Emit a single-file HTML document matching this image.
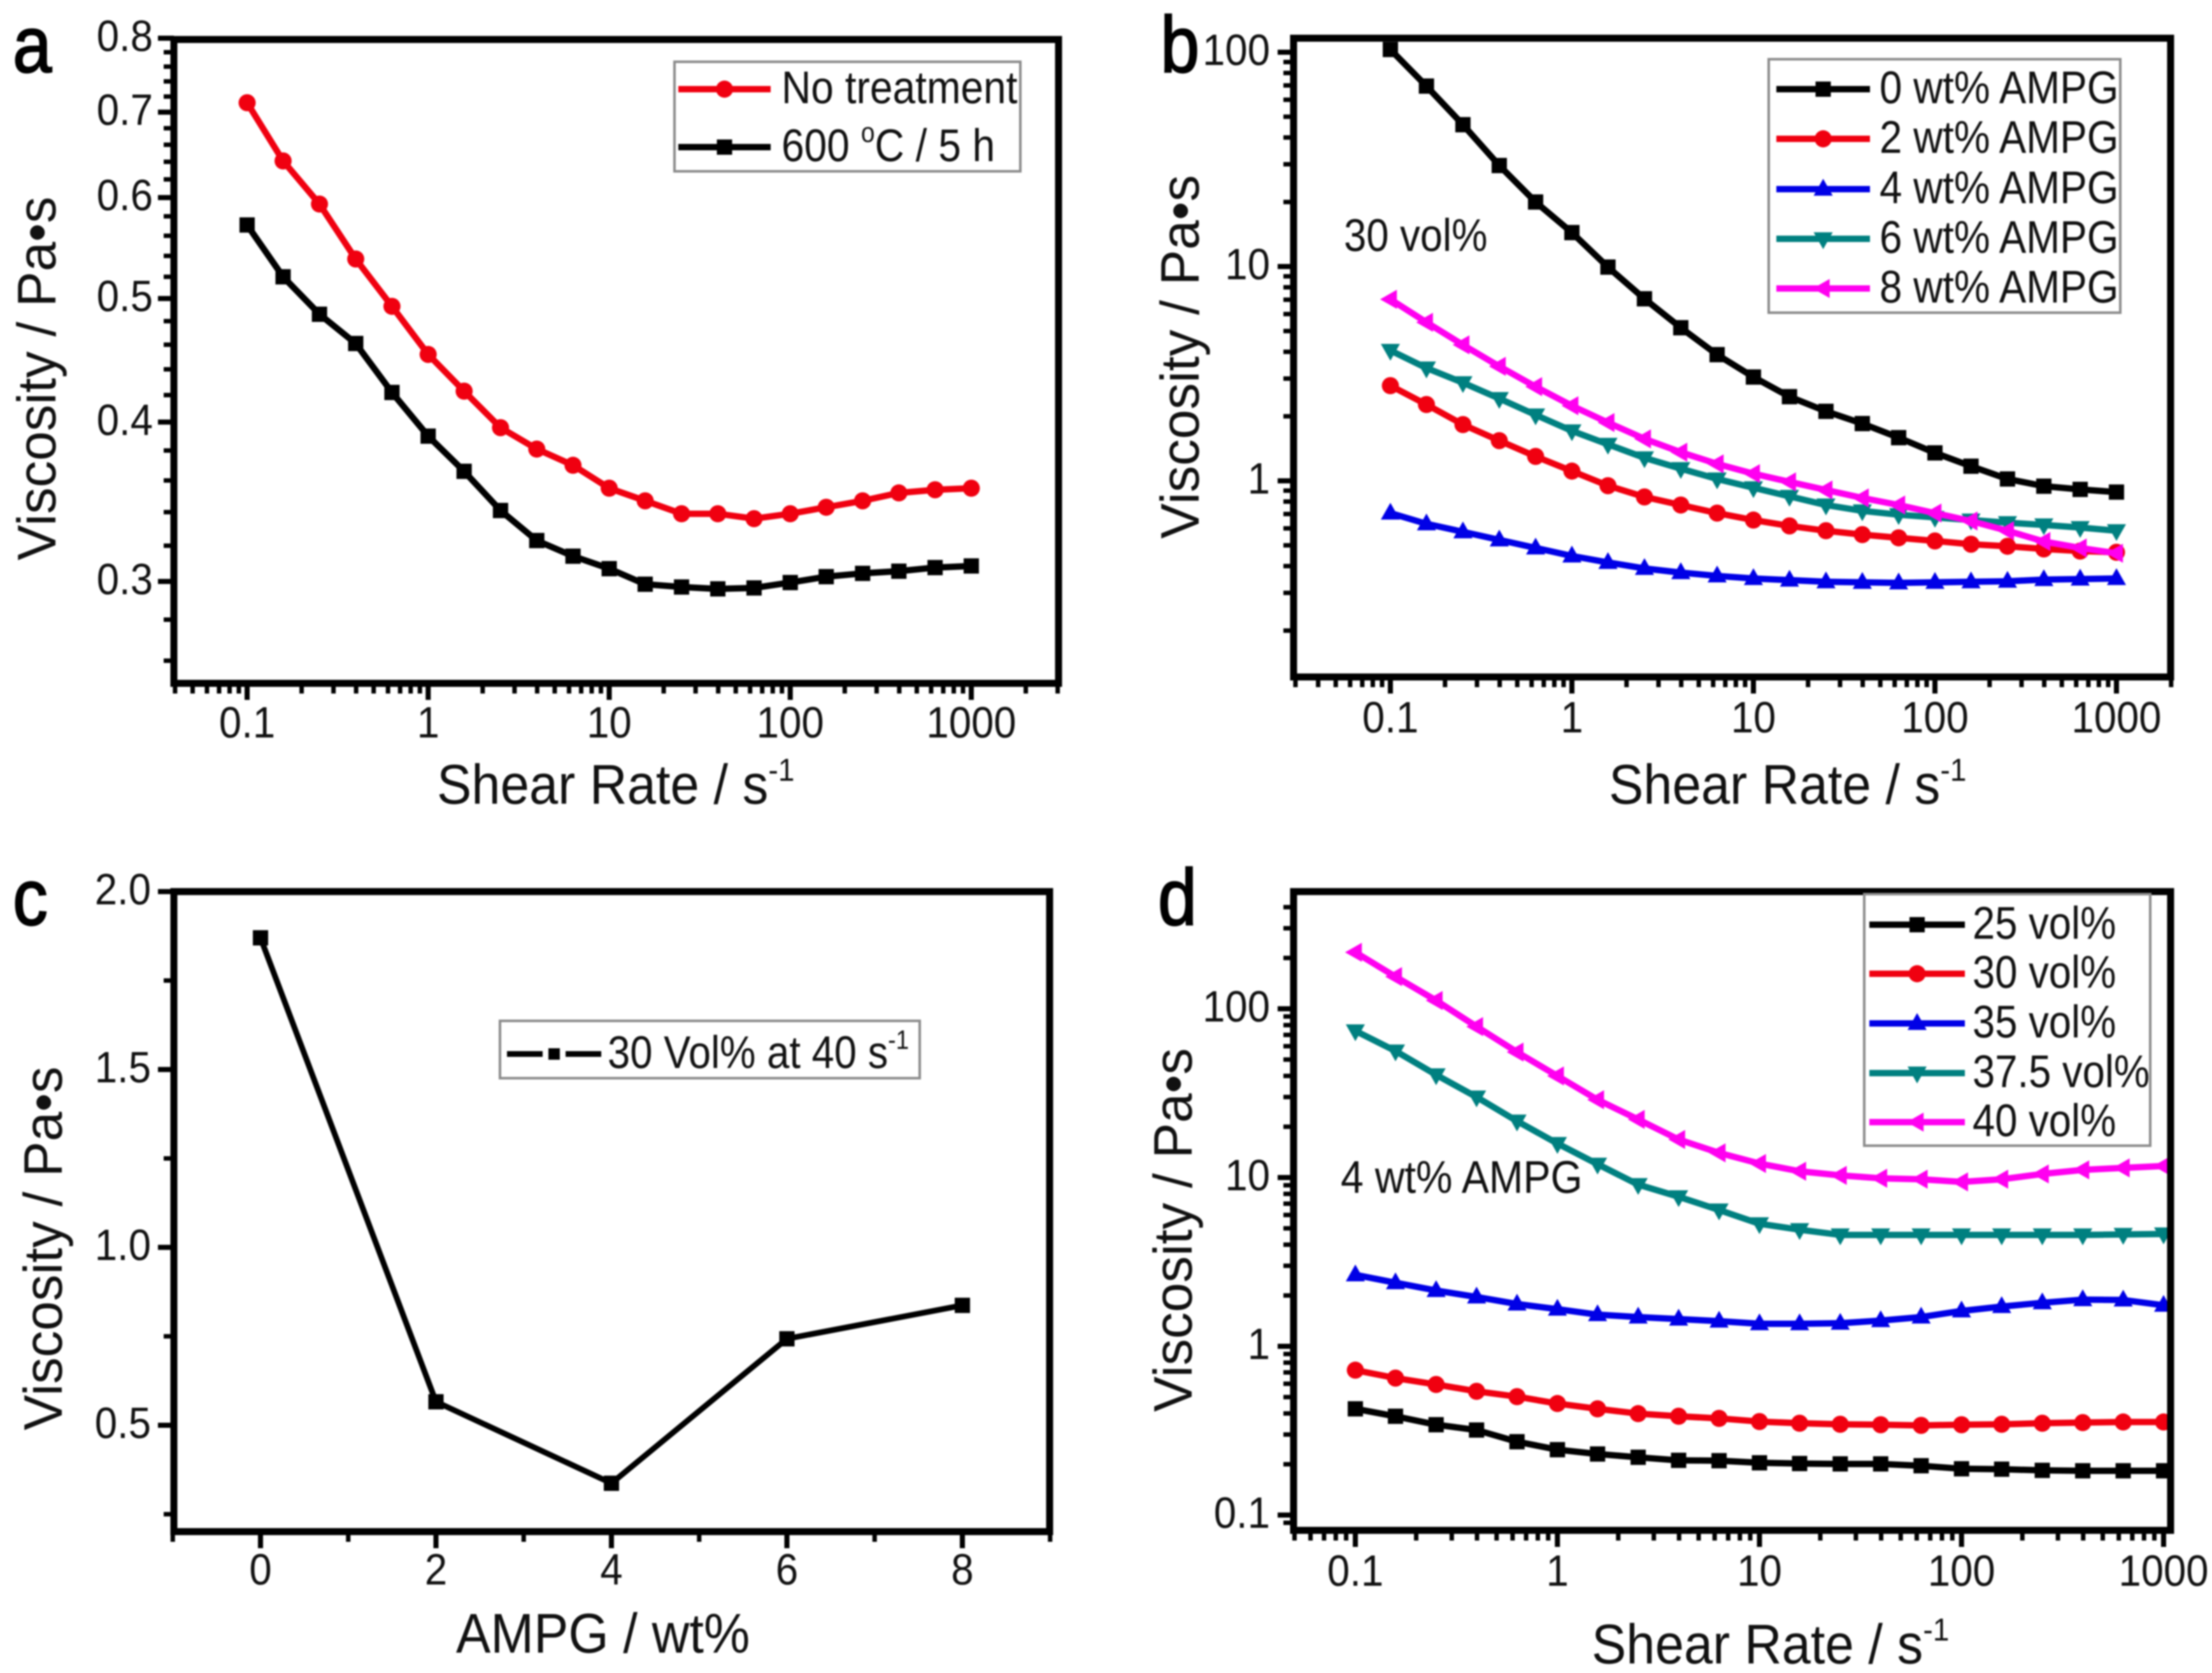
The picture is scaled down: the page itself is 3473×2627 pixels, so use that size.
<!DOCTYPE html>
<html lang="en">
<head>
<meta charset="utf-8">
<title>Viscosity vs shear rate</title>
<style>
html,body{margin:0;padding:0;background:#fff;}
body{width:3473px;height:2627px;overflow:hidden;}
svg{display:block;filter:blur(1.4px);}
text{font-family:"Liberation Sans",Arial,sans-serif;fill:#111;text-rendering:geometricPrecision;}
.title{font-size:88px;}
.note{font-size:72px;}
.letter{font-size:125px;fill:#000;stroke:#000;stroke-width:2.5px;}
</style>
</head>
<body>
<svg id="fig" xmlns="http://www.w3.org/2000/svg" width="3473" height="2627" viewBox="0 0 3473 2627">
  <rect width="3473" height="2627" fill="#fff"/>
  <g id="plots"></g>
  <g>
    <text class="letter" transform="translate(20,113) scale(.88,1)">a</text>
    <text class="letter" transform="translate(1822,113) scale(.88,1)">b</text>
    <text class="letter" transform="translate(20,1452) scale(.88,1)">c</text>
    <text class="letter" transform="translate(1818,1452) scale(.88,1)">d</text>

    <text class="title" transform="translate(686,1262) scale(.925,1)">Shear Rate / s<tspan dy="-36" font-size="50">-1</tspan></text>
    <text class="title" transform="translate(87,880) rotate(-90) scale(.95,.97)">Viscosity / Pa•s</text>
    <text class="title" transform="translate(2526,1262) scale(.925,1)">Shear Rate / s<tspan dy="-36" font-size="50">-1</tspan></text>
    <text class="title" transform="translate(1882,846) rotate(-90) scale(.95,.97)">Viscosity / Pa•s</text>
    <text class="title" transform="translate(716,2595) scale(.925,1)">AMPG / wt%</text>
    <text class="title" transform="translate(97,2246) rotate(-90) scale(.95,.97)">Viscosity / Pa•s</text>
    <text class="title" transform="translate(2499,2612) scale(.925,1)">Shear Rate / s<tspan dy="-36" font-size="50">-1</tspan></text>
    <text class="title" transform="translate(1871,2217) rotate(-90) scale(.95,.97)">Viscosity / Pa•s</text>

    <text class="note" transform="translate(2110,394) scale(.88,1)">30 vol%</text>
    <text class="note" transform="translate(2105,1873) scale(.895,1)">4 wt% AMPG</text>
  </g>
  <g id="legends"></g>
  <g>
    <text class="note" transform="translate(1227,162) scale(.89,1)">No treatment</text>
    <text class="note" transform="translate(1227,253) scale(.89,1)">600 <tspan dy="-30" font-size="44">o</tspan><tspan dy="30">C / 5 h</tspan></text>

    <text class="note" transform="translate(2951,162) scale(.885,1)">0 wt% AMPG</text>
    <text class="note" transform="translate(2951,240) scale(.885,1)">2 wt% AMPG</text>
    <text class="note" transform="translate(2951,319) scale(.885,1)">4 wt% AMPG</text>
    <text class="note" transform="translate(2951,397) scale(.885,1)">6 wt% AMPG</text>
    <text class="note" transform="translate(2951,475) scale(.885,1)">8 wt% AMPG</text>

    <text class="note" transform="translate(954,1677) scale(.88,1)">30 Vol% at 40 s<tspan dy="-30" font-size="42">-1</tspan></text>

    <text class="note" transform="translate(3097,1474) scale(.88,1)">25 vol%</text>
    <text class="note" transform="translate(3097,1551) scale(.88,1)">30 vol%</text>
    <text class="note" transform="translate(3097,1629) scale(.88,1)">35 vol%</text>
    <text class="note" transform="translate(3097,1707) scale(.88,1)">37.5 vol%</text>
    <text class="note" transform="translate(3097,1784) scale(.88,1)">40 vol%</text>
  </g>
</svg>
<script>
/* ---------- data ---------- */
const shearRates = [0.1,0.158,0.251,0.398,0.631,1,1.58,2.51,3.98,6.31,10,15.8,25.1,39.8,63.1,100,158,251,398,631,1000];

const aNoTreatment = [0.712,0.641,0.593,0.537,0.493,0.452,0.423,0.396,0.381,0.370,0.355,0.347,0.339,0.339,0.336,0.339,0.343,0.347,0.352,0.354,0.355];
const a600C = [0.571,0.520,0.486,0.461,0.422,0.390,0.366,0.341,0.323,0.314,0.307,0.2985,0.297,0.296,0.2965,0.2994,0.3026,0.3044,0.3056,0.3076,0.3085];

const b0wt = [103,69.5,45.9,29.6,20.0,14.4,9.94,7.07,5.18,3.88,3.05,2.47,2.11,1.85,1.59,1.35,1.17,1.02,0.944,0.912,0.886];
const b2wt = [2.78,2.27,1.83,1.54,1.30,1.11,0.949,0.841,0.771,0.707,0.656,0.616,0.585,0.561,0.542,0.524,0.506,0.495,0.481,0.470,0.464];
const b4wt = [0.707,0.630,0.578,0.530,0.486,0.446,0.416,0.390,0.373,0.360,0.350,0.344,0.338,0.336,0.334,0.336,0.338,0.340,0.346,0.348,0.350];
const b6wt = [4.06,3.36,2.87,2.42,2.03,1.71,1.48,1.28,1.14,1.02,0.928,0.846,0.771,0.724,0.695,0.675,0.656,0.638,0.623,0.605,0.585];
const b8wt = [7.03,5.49,4.31,3.42,2.75,2.24,1.87,1.57,1.36,1.20,1.08,0.989,0.906,0.832,0.771,0.707,0.649,0.585,0.521,0.486,0.459];

const cAmpg = [0,2,4,6,8];
const cViscosity = [1.87,0.566,0.337,0.743,0.837];

const d25vol = [0.426,0.385,0.343,0.319,0.272,0.244,0.230,0.220,0.211,0.210,0.204,0.202,0.201,0.201,0.196,0.188,0.187,0.184,0.183,0.183,0.183];
const d30vol = [0.722,0.648,0.594,0.541,0.503,0.458,0.426,0.399,0.385,0.374,0.358,0.350,0.345,0.343,0.340,0.343,0.345,0.350,0.353,0.356,0.356];
const d35vol = [2.65,2.38,2.14,1.96,1.78,1.66,1.54,1.49,1.45,1.41,1.36,1.36,1.37,1.42,1.49,1.62,1.72,1.81,1.89,1.88,1.75];
const d37vol = [74,56.2,40.6,30,21.6,15.9,12,9.08,7.69,6.42,5.32,4.91,4.57,4.57,4.57,4.57,4.57,4.57,4.57,4.60,4.63];
const d40vol = [216,155,112,78.4,55.4,40,28.9,22.1,16.8,14.0,12.1,10.9,10.3,9.9,9.77,9.42,9.77,10.5,11.1,11.4,11.7];

const logXTicks = [0.1,1,10,100,1000];
const logXTickLabels = ['0.1','1','10','100','1000'];
const aYTicks = [0.3,0.4,0.5,0.6,0.7,0.8];
const aYTickLabels = ['0.3','0.4','0.5','0.6','0.7','0.8'];
const bYTicks = [1,10,100];
const bYTickLabels = ['1','10','100'];
const cXTicks = [0,2,4,6,8];
const cXTickLabels = ['0','2','4','6','8'];
const cYTicks = [0.5,1.0,1.5,2.0];
const cYTickLabels = ['0.5','1.0','1.5','2.0'];
const dYTicks = [0.1,1,10,100];
const dYTickLabels = ['0.1','1','10','100'];

/* ---------- helpers ---------- */
const NS = 'http://www.w3.org/2000/svg';
const COLORS = {black:'#000000', red:'#f00010', blue:'#0000e6', teal:'#008080', magenta:'#ff00f0'};

function make(tag, attrs, parent) {
  const n = document.createElementNS(NS, tag);
  for (const k in attrs) n.setAttribute(k, attrs[k]);
  parent.appendChild(n);
  return n;
}

/* axis scale from two anchor points: value -> pixel */
function axisScale(log, v0, p0, v1, p1) {
  const f = log ? Math.log10 : (v => v);
  return v => p0 + (f(v) - f(v0)) / (f(v1) - f(v0)) * (p1 - p0);
}

function markerShape(kind, cx, cy, color, size, parent) {
  const s = size;
  if (kind === 'square') return make('rect', {x:cx-s, y:cy-s, width:2*s, height:2*s, fill:color}, parent);
  if (kind === 'circle') return make('circle', {cx:cx, cy:cy, r:s*1.12, fill:color}, parent);
  let pts;
  if (kind === 'up') pts = [[cx,cy-s*1.35],[cx+s*1.25,cy+s*0.85],[cx-s*1.25,cy+s*0.85]];
  if (kind === 'down') pts = [[cx,cy+s*1.35],[cx+s*1.25,cy-s*0.85],[cx-s*1.25,cy-s*0.85]];
  if (kind === 'left') pts = [[cx-s*1.35,cy],[cx+s*0.85,cy-s*1.25],[cx+s*0.85,cy+s*1.25]];
  return make('polygon', {points:pts.map(p => p.join(',')).join(' '), fill:color}, parent);
}

function logMinors(lo, hi) {
  const out = [];
  for (let e = Math.floor(Math.log10(lo)); e <= Math.ceil(Math.log10(hi)); e++) {
    for (let m = 1; m <= 9; m++) {
      const v = m * Math.pow(10, e);
      if (v >= lo * 0.999 && v <= hi * 1.001) out.push(v);
    }
  }
  return out;
}
function stepMinors(lo, hi, step) {
  const out = [];
  for (let i = Math.ceil(lo / step - 1e-6); i * step <= hi + 1e-9; i++) out.push(i * step);
  return out;
}

function drawPanel(cfg) {
  const root = document.getElementById('plots');
  const g = make('g', {}, root);
  
  
  const f = cfg.frame;
  const xs = cfg.xScale, ys = cfg.yScale;

  /* series */
  cfg.series.forEach(s => {
    const sg = make('g', {}, g);
    
    
    const pts = s.values.map((v, i) => xs(cfg.xValues[i]).toFixed(1) + ',' + ys(v).toFixed(1)).join(' ');
    const line = make('polyline', {points:pts, fill:'none', stroke:COLORS[s.color], 'stroke-width':cfg.lineWidth, 'stroke-linejoin':'round'}, sg);
    
    
    s.values.forEach((v, i) => {
      const m = markerShape(s.marker, xs(cfg.xValues[i]), ys(v), COLORS[s.color], cfg.markerSize, sg);
      
      
    });
  });

  /* frame */
  const box = make('rect', {x:f.l, y:f.t, width:f.r-f.l, height:f.b-f.t, fill:'none', stroke:'#000', 'stroke-width':11}, g);
  
  

  /* x ticks */
  cfg.xMinor.forEach(v => {
    const x = xs(v);
    if (x < f.l - 3 || x > f.r + 3) return;
    const t = make('line', {x1:x, x2:x, y1:f.b, y2:f.b+16, stroke:'#000', 'stroke-width':7}, g);
    
    
  });
  cfg.xTicks.forEach((v, i) => {
    const x = xs(v);
    const t = make('line', {x1:x, x2:x, y1:f.b, y2:f.b+26, stroke:'#000', 'stroke-width':8}, g);
    
    
    const lab = make('text', {'font-size':69, 'text-anchor':'middle', transform:'translate(' + x + ',' + cfg.xLabelY + ') scale(.92,1)'}, g);
    lab.textContent = cfg.xLabels[i];
    
    
  });

  /* y ticks */
  cfg.yMinor.forEach(v => {
    const y = ys(v);
    if (y < f.t - 1 || y > f.b + 1) return;
    const t = make('line', {x1:f.l-16, x2:f.l, y1:y, y2:y, stroke:'#000', 'stroke-width':7}, g);
    
    
  });
  cfg.yTicks.forEach((v, i) => {
    const y = ys(v);
    const t = make('line', {x1:f.l-25, x2:f.l, y1:y, y2:y, stroke:'#000', 'stroke-width':8}, g);
    
    
    const lab = make('text', {'font-size':69, 'text-anchor':'end', transform:'translate(' + cfg.yLabelX + ',' + (y + 20) + ') scale(.92,1)'}, g);
    lab.textContent = cfg.yLabels[i];
    
    
  });

  /* legend box + swatches */
  const lg = document.getElementById('legends');
  const L = cfg.legend;
  const lb = make('rect', {x:L.x, y:L.y, width:L.w, height:L.h, fill:'#fff', stroke:'#8c8c8c', 'stroke-width':4}, lg);
  
  
  L.rows.forEach((rowY, i) => {
    const s = cfg.series[L.order ? L.order[i] : i];
    const sw = make('line', {x1:L.x1, x2:L.x2, y1:rowY, y2:rowY, stroke:COLORS[s.color], 'stroke-width':cfg.lineWidth}, lg);
    
    
    if (L.gap) {
      const gp = make('rect', {x:(L.x1+L.x2)/2-L.gap, y:rowY-14, width:2*L.gap, height:28, fill:'#fff'}, lg);
      
      
    }
    const mk = markerShape(s.marker, (L.x1+L.x2)/2, rowY, COLORS[s.color], L.markerSize || cfg.markerSize, lg);
    
    
  });
}

/* ---------- panels ---------- */
drawPanel({
  id:'a', frame:{l:273,r:1662,t:62,b:1073},
  xValues:shearRates,
  xScale:axisScale(true,0.1,388,1000,1525),
  yScale:axisScale(true,0.3,913,0.8,60),
  xTicks:logXTicks, xLabels:logXTickLabels, xMinor:logMinors(0.04,3000),
  yTicks:aYTicks, yLabels:aYTickLabels, yMinor:stepMinors(0.25,0.8,0.02),
  xLabelY:1158, yLabelX:240, lineWidth:10, markerSize:12,
  series:[
    {key:'no-treatment', values:aNoTreatment, color:'red', marker:'circle'},
    {key:'600c-5h', values:a600C, color:'black', marker:'square'}
  ],
  legend:{x:1059,y:97,w:543,h:172,x1:1065,x2:1210,rows:[140,231]}
});

drawPanel({
  id:'b', frame:{l:2031,r:3408,t:60,b:1063},
  xValues:shearRates,
  xScale:axisScale(true,0.1,2183,1000,3323),
  yScale:axisScale(true,1,755,100,82),
  xTicks:logXTicks, xLabels:logXTickLabels, xMinor:logMinors(0.03,2000),
  yTicks:bYTicks, yLabels:bYTickLabels, yMinor:logMinors(0.12,118),
  xLabelY:1150, yLabelX:1994, lineWidth:10, markerSize:12,
  series:[
    {key:'0wt-ampg', values:b0wt, color:'black', marker:'square'},
    {key:'2wt-ampg', values:b2wt, color:'red', marker:'circle'},
    {key:'4wt-ampg', values:b4wt, color:'blue', marker:'up'},
    {key:'6wt-ampg', values:b6wt, color:'teal', marker:'down'},
    {key:'8wt-ampg', values:b8wt, color:'magenta', marker:'left'}
  ],
  legend:{x:2777,y:93,w:552,h:398,x1:2789,x2:2936,rows:[140,218,297,375,453]}
});

drawPanel({
  id:'c', frame:{l:273,r:1648,t:1400,b:2405},
  xValues:cAmpg,
  xScale:axisScale(false,0,409,8,1511),
  yScale:axisScale(false,0.5,2238,2.0,1400),
  xTicks:cXTicks, xLabels:cXTickLabels, xMinor:stepMinors(-1,9,1),
  yTicks:cYTicks, yLabels:cYTickLabels, yMinor:stepMinors(0.25,2,0.25),
  xLabelY:2488, yLabelX:237, lineWidth:9, markerSize:12,
  series:[
    {key:'30-vol-at-40s', values:cViscosity, color:'black', marker:'square'}
  ],
  legend:{x:785,y:1603,w:659,h:90,x1:796,x2:944,rows:[1655],gap:18,markerSize:9}
});

drawPanel({
  id:'d', frame:{l:2031,r:3408,t:1400,b:2403},
  xValues:shearRates,
  xScale:axisScale(true,0.1,2128,1000,3397),
  yScale:axisScale(true,1,2114,100,1584),
  xTicks:logXTicks, xLabels:logXTickLabels, xMinor:logMinors(0.05,1100),
  yTicks:dYTicks, yLabels:dYTickLabels, yMinor:logMinors(0.082,500),
  xLabelY:2490, yLabelX:1994, lineWidth:10, markerSize:12,
  series:[
    {key:'25-vol', values:d25vol, color:'black', marker:'square'},
    {key:'30-vol', values:d30vol, color:'red', marker:'circle'},
    {key:'35-vol', values:d35vol, color:'blue', marker:'up'},
    {key:'37-5-vol', values:d37vol, color:'teal', marker:'down'},
    {key:'40-vol', values:d40vol, color:'magenta', marker:'left'}
  ],
  legend:{x:2927,y:1404,w:449,h:395,x1:2935,x2:3085,rows:[1452,1529,1607,1685,1762]}
});
</script>
</body>
</html>
